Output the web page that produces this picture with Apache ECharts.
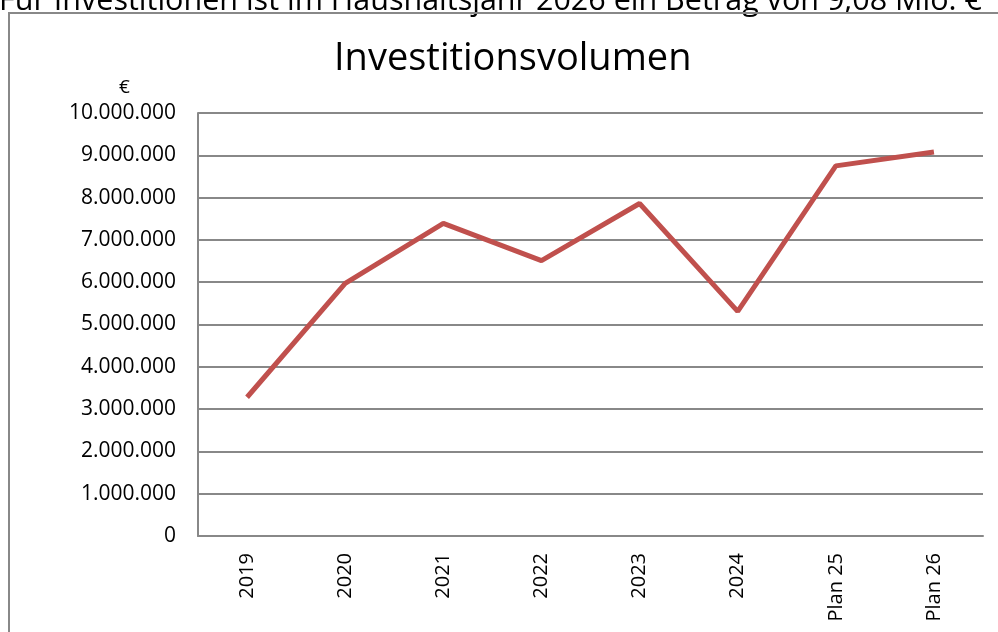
<!DOCTYPE html>
<html lang="de">
<head>
    <meta charset="UTF-8">
    <title>Investitionsvolumen</title>
    <script src="https://cdn.jsdelivr.net/npm/echarts@6/dist/echarts.min.js"></script>
    <style>
        html, body { margin: 0; padding: 0; background: #fff; }
        #chart1 { width: 998px; height: 632px; }
    </style>
</head>
<body>
<div id="chart1"></div>
<script>
    // Daten
    var jahre = ['2019', '2020', '2021', '2022', '2023', '2024', 'Plan 25', 'Plan 26'];
    var volumen = [3280000, 5970000, 7390000, 6510000, 7860000, 5310000, 8750000, 9080000];
    var yMax = 10000000;
    var yStep = 1000000;

    var myChart = echarts.init(document.getElementById('chart1'));

    var schrift = '"Open Sans", "Noto Sans", sans-serif';

    var option = {
        animation: false,
        backgroundColor: '#fff',
        title: {
            text: 'Investitionsvolumen',
            left: 329,
            top: 35,
            textStyle: {fontFamily: schrift, fontSize: 38, fontWeight: 'normal', color: '#000'}
        },
        graphic: [
            {   // angeschnittener Text oben
                type: 'text', left: -1, top: -14,
                style: {text: 'Für Investitionen ist im Haushaltsjahr 2026 ein Betrag von 9,08 Mio. €', fontFamily: schrift, fontSize: 30.5, fill: '#000'}
            },
            {   // Rahmen
                type: 'rect', shape: {x: 9, y: 13, width: 1100, height: 700},
                style: {fill: 'none', stroke: '#888', lineWidth: 2}
            },
            {
                type: 'text', left: 119, top: 78,
                style: {text: '€', fontFamily: schrift, fontSize: 19, fill: '#000'}
            }
        ],
        grid: {left: 198, right: 15, top: 113, bottom: 96},
        xAxis: {
            type: 'category',
            data: jahre,
            boundaryGap: true,
            axisLine: {lineStyle: {color: '#888', width: 2}},
            axisTick: {show: false},
            axisLabel: {rotate: 90, margin: 17, color: '#000', fontFamily: schrift, fontSize: 20}
        },
        yAxis: {
            type: 'value',
            min: 0, max: yMax, interval: yStep,
            axisLine: {show: true, lineStyle: {color: '#888', width: 2}},
            axisTick: {show: false},
            splitLine: {lineStyle: {color: '#888', width: 2}},
            axisLabel: {
                margin: 22, color: '#000', fontFamily: schrift, fontSize: 21,
                formatter: function (v) {
                    return v === 0 ? '0' : v.toString().replace(/\B(?=(\d{3})+(?!\d))/g, '.');
                }
            }
        },
        series: [{
            name: 'Investitionsvolumen',
            type: 'line',
            data: volumen,
            symbol: 'none',
            lineStyle: {color: '#C0504D', width: 5},
            itemStyle: {color: '#C0504D'}
        }]
    };

    myChart.setOption(option);
</script>
</body>
</html>
